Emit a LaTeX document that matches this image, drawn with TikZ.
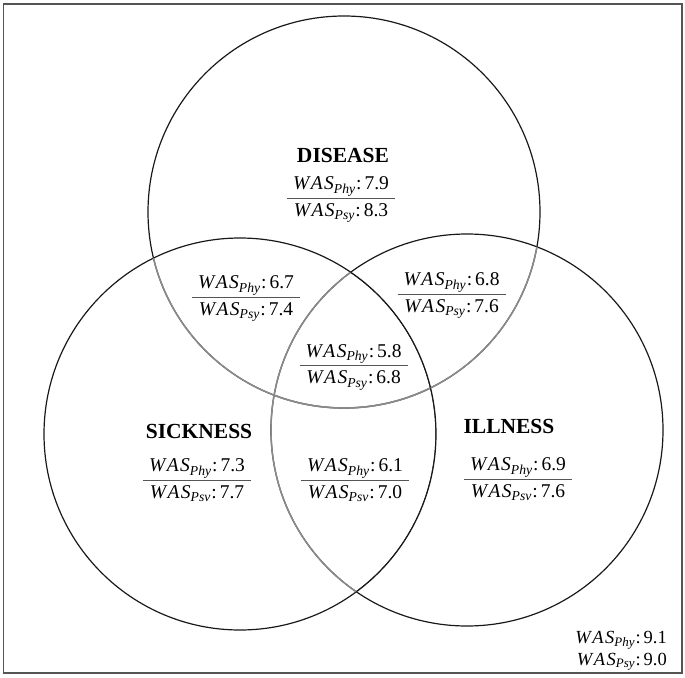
\documentclass[tikz,border=0pt]{standalone}
\usepackage{fontspec}
\setmainfont{Liberation Serif}
\usepackage{colortbl}
\definecolor{rulegray}{HTML}{555555}
\definecolor{arcgray}{HTML}{8A8A8A}
\definecolor{framegray}{HTML}{555555}
\newcommand\wasx[2]{{\itshape W\kern1.5pt A\kern1.5pt S}\textsubscript{\itshape #1}\kern0.5pt:\kern3pt #2}
\newcommand\wfrac[3]{{\renewcommand\arraystretch{1.25}\arrayrulecolor{rulegray}%
\begin{tabular}{@{\hspace{6pt}}c@{\hspace{6pt}}}\wasx{Phy}{#1}\\\hline\wasx{#2}{#3}\end{tabular}}}
\tikzset{
  frame/.style={draw=framegray, line width=1.6pt},
  circ/.style={draw=black!90, line width=1.2pt},
  grayarc/.style={draw=arcgray, line width=1.5pt},
  lbl/.style={font=\fontsize{21.5}{24}\selectfont\bfseries, inner sep=0pt},
  frac/.style={font=\fontsize{19.5}{21}\selectfont, inner sep=0pt},
}
\begin{document}
\begin{tikzpicture}[x=1pt,y=-1pt]
\useasboundingbox (0,0) rectangle (685,677);
\draw[frame] (3.5,4) rectangle (682,673);
\coordinate (T) at (344,212);
\coordinate (L) at (240,434);
\coordinate (R) at (467,430);
% circles
\draw[circ] (L) circle[radius=196pt];
\draw[circ] (T) circle[radius=196pt];
\draw[circ] (R) circle[radius=196pt];
% lighter arcs
\begin{scope}
  \clip (L) circle[radius=196pt];
  \draw[grayarc] (T) circle[radius=196pt];
  \draw[grayarc] (R) circle[radius=196pt];
\end{scope}
\begin{scope}
  \clip (R) circle[radius=196pt];
  \draw[grayarc] (T) circle[radius=196pt];
\end{scope}
\begin{scope}
  \clip (L) circle[radius=196pt];
  \clip (R) circle[radius=196pt];
  \draw[circ] (L) circle[radius=196pt];
\end{scope}
% labels
\node[lbl] (disease) at (343,155) {DISEASE};
\node[lbl] (sickness) at (199,431) {SICKNESS};
\node[lbl] (illness) at (509,426) {ILLNESS};
% fractions
\node[frac] (fd) at (341,198) {\wfrac{7.9}{Psy}{8.3}};
\node[frac] (fds) at (246,297) {\wfrac{6.7}{Psy}{7.4}};
\node[frac] (fdi) at (451.6,294) {\wfrac{6.8}{Psy}{7.6}};
\node[frac] (fall) at (353.6,365.4) {\wfrac{5.8}{Psy}{6.8}};
\node[frac] (fs) at (197,480) {\wfrac{7.3}{Psv}{7.7}};
\node[frac] (fsi) at (355,480) {\wfrac{6.1}{Psv}{7.0}};
\node[frac] (fi) at (518,479) {\wfrac{6.9}{Psv}{7.6}};
\node[frac, align=right, anchor=east, font=\fontsize{18.5}{21.7}\selectfont] (fout) at (667,651) {\wasx{Phy}{9.1}\\\wasx{Psy}{9.0}};
\end{tikzpicture}
\end{document}
